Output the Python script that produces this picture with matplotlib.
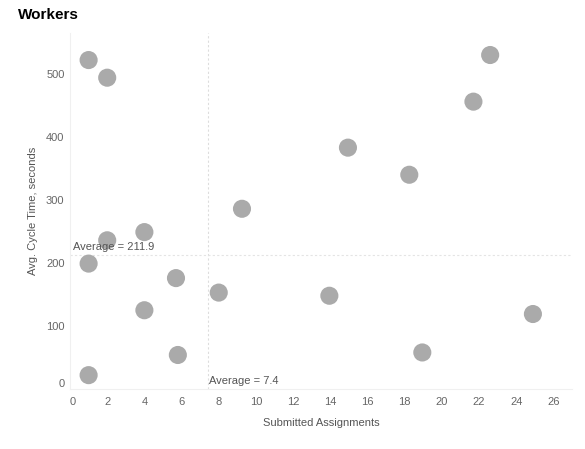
import matplotlib.pyplot as plt

# worker data: submitted assignments vs average cycle time (seconds)
assignments = [1, 2, 2, 4, 1, 5.7, 8.0, 4, 5.8, 1, 9.25, 13.95, 18.95, 24.9,
               14.95, 18.25, 21.7, 22.6]
cycle_time = [522, 494, 236, 249, 199, 176, 153, 125, 54, 22, 286, 148, 58,
              119, 383, 340, 456, 530]

avg_assignments = 7.4
avg_cycle = 211.9

x_ticks = list(range(0, 27, 2))
y_ticks = [0, 100, 200, 300, 400, 500]

plt.rcParams['font.family'] = ['Liberation Sans', 'DejaVu Sans']

fig = plt.figure(figsize=(5.85, 4.49), dpi=100)
ax = fig.add_axes([0.1197, 0.1336, 0.858, 0.793])

ax.scatter(assignments, cycle_time, s=170, c='#aaaaaa', edgecolors='none',
           zorder=3)

# average reference lines
ax.axvline(avg_assignments, color='#dddddd', lw=0.8, ls=(0, (2, 2)), zorder=1)
ax.axhline(avg_cycle, color='#e4e4e4', lw=0.8, ls=(0, (2, 2)), zorder=1)
ax.text(0.17, avg_cycle + 6, f'Average = {avg_cycle}', fontsize=8,
        color='#555555', ha='left', va='bottom')
ax.text(avg_assignments + 0.08, 4, f'Average = {avg_assignments}',
        fontsize=8, color='#555555', ha='left', va='bottom')

ax.set_xlim(0, 27)
ax.set_ylim(0, 565)
ax.set_xticks(x_ticks)
ax.set_yticks(y_ticks)
ax.tick_params(axis='x', length=0, labelsize=8, labelcolor='#666666', pad=6)
ax.tick_params(axis='y', length=0, labelsize=8, labelcolor='#666666', pad=4)
ax.get_xticklabels()[0].set_ha('left')
ax.get_yticklabels()[0].set_va('bottom')

for side in ['top', 'right']:
    ax.spines[side].set_visible(False)
for side in ['left', 'bottom']:
    ax.spines[side].set_color('#f0f0f0')
    ax.spines[side].set_linewidth(0.8)

ax.set_xlabel('Submitted Assignments', fontsize=8, color='#555555',
              labelpad=8)
ax.set_ylabel('Avg. Cycle Time, seconds', fontsize=8, color='#555555',
              labelpad=6)

fig.text(18 / 585, 1 - 15 / 449, 'Workers', fontsize=11, fontweight='bold',
         ha='left', va='center')

fig.savefig('out.png', dpi=100)
